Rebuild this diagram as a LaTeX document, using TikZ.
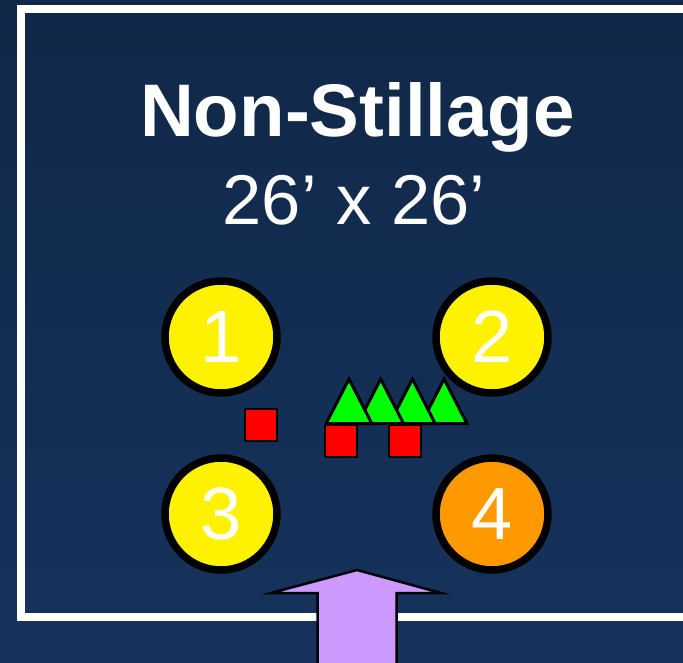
\documentclass[tikz,border=0pt]{standalone}
\usepackage{fontspec}
\setmainfont{Liberation Sans}
\definecolor{bgtop}{RGB}{16,40,72}
\definecolor{bgbot}{RGB}{22,51,93}
\definecolor{lilac}{RGB}{204,153,255}
\definecolor{orng}{RGB}{255,153,0}
\tikzset{
  spot/.style={circle, draw=black, line width=7.5pt, minimum size=112pt, inner sep=0pt, text=white, font=\fontsize{74}{80}\selectfont},
  redbox/.style={draw=black, fill=red, line width=2pt, minimum size=32pt, inner sep=0pt},
  tree/.style={draw=black, fill=green, line width=3pt, line join=miter},
  arrowshape/.style={draw=black, fill=lilac, line width=2.5pt, line join=miter}
}
\begin{document}
\begin{tikzpicture}[x=1pt,y=-1pt]
\useasboundingbox (0,0) rectangle (683,663);
\shade[top color=bgtop, bottom color=bgbot] (0,0) rectangle (683,663);
\draw[white, line width=8pt] (21,9) rectangle (700,617);
\node[anchor=base, text=white, font=\fontsize{74.5}{80}\selectfont\bfseries] (title) at (357.5,136.7) {Non-Stillage};
\node[anchor=base, text=white, font=\fontsize{70.5}{80}\selectfont] (size) at (354,225) {26’ x 26’};
\node[spot, fill=yellow] (c1) at (221,337) {1};
\node[spot, fill=yellow] (c2) at (492,337) {2};
\node[spot, fill=yellow] (c3) at (221,514) {3};
\node[spot, fill=orng] (c4) at (492,514) {4};
\node[redbox] (s1) at (261,425) {};
\node[redbox] (s2) at (341,441) {};
\node[redbox] (s3) at (404.5,441) {};
\foreach \i/\a in {4/444.1,3/412.4,2/380.7,1/349}{
  \draw[tree] (\a-22.8,423.5) -- (\a,379) -- (\a+22.8,423.5) -- cycle;
}
\draw[arrowshape] (357,570) -- (441,593) -- (396.5,593) -- (396.5,675) -- (317.5,675) -- (317.5,593) -- (271,593) -- cycle;
\end{tikzpicture}
\end{document}
